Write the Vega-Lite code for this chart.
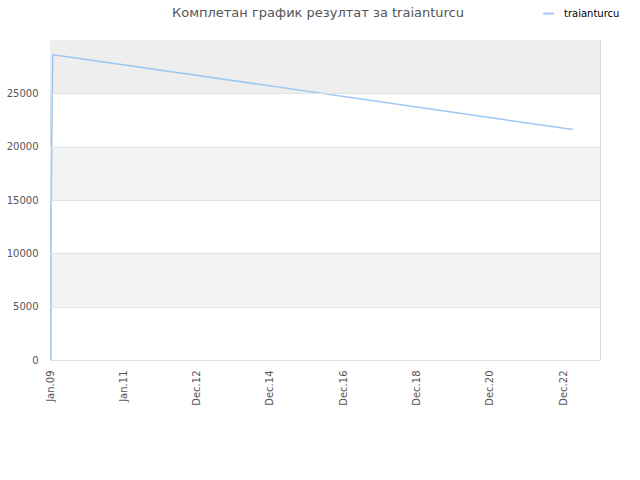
{
  "$schema": "https://vega.github.io/schema/vega-lite/v6.json",
  "width": 550,
  "height": 320,
  "autosize": "none",
  "padding": {"left": 50, "top": 40, "right": 40, "bottom": 120},
  "background": "white",
  "config": {
    "font": "DejaVu Sans",
    "view": {"stroke": "#d9d9d9", "strokeWidth": 1}
  },
  "title": {
    "text": "Комплетан график резултат за traianturcu",
    "fontSize": 13,
    "fontWeight": "normal",
    "color": "#555555",
    "anchor": "middle",
    "frame": "group",
    "dx": -7,
    "offset": -13
  },
  "datasets": {
    "bands": [
      {"lo": 5000, "hi": 10000, "band": "light"},
      {"lo": 15000, "hi": 20000, "band": "light"},
      {"lo": 25000, "hi": 30000, "band": "top"}
    ],
    "rating": [
      {"date": "2009-01-11", "value": 0, "player": "traianturcu"},
      {"date": "2009-01-12", "value": 14340, "player": "traianturcu"},
      {"date": "2009-01-28", "value": 28600, "player": "traianturcu"},
      {"date": "2009-02-05", "value": 28620, "player": "traianturcu"},
      {"date": "2023-04-06", "value": 21610, "player": "traianturcu"}
    ]
  },
  "layer": [
    {
      "data": {"name": "bands"},
      "mark": {"type": "rect"},
      "encoding": {
        "y": {"field": "lo", "type": "quantitative", "scale": {"domain": [0, 30000], "nice": false}},
        "y2": {"field": "hi"},
        "fill": {
          "field": "band",
          "type": "nominal",
          "scale": {"domain": ["light", "top"], "range": ["#f3f3f3", "#eeeeee"]},
          "legend": null
        }
      }
    },
    {
      "data": {"name": "rating"},
      "mark": {"type": "line", "strokeWidth": 1.5},
      "encoding": {
        "x": {
          "field": "date",
          "type": "temporal",
          "scale": {
            "type": "utc",
            "domain": [
              {"year": 2009, "month": 1, "date": 1, "utc": true},
              {"year": 2024, "month": 1, "date": 1, "utc": true}
            ]
          },
          "axis": {
            "title": null,
            "values": [
              {"year": 2009, "month": 1, "date": 1, "utc": true},
              {"year": 2011, "month": 1, "date": 1, "utc": true},
              {"year": 2012, "month": 12, "date": 31, "utc": true},
              {"year": 2014, "month": 12, "date": 31, "utc": true},
              {"year": 2016, "month": 12, "date": 30, "utc": true},
              {"year": 2018, "month": 12, "date": 30, "utc": true},
              {"year": 2020, "month": 12, "date": 29, "utc": true},
              {"year": 2022, "month": 12, "date": 29, "utc": true}
            ],
            "format": "%b.%y",
            "labelAngle": 270,
            "labelAlign": "right",
            "labelBaseline": "middle",
            "labelFontSize": 10,
            "labelColor": "#555555",
            "labelPadding": 10,
            "labelFlush": false,
            "labelOverlap": false,
            "ticks": false,
            "domain": false,
            "grid": false
          }
        },
        "y": {
          "field": "value",
          "type": "quantitative",
          "scale": {"domain": [0, 30000], "nice": false},
          "axis": {
            "title": null,
            "values": [0, 5000, 10000, 15000, 20000, 25000],
            "format": "d",
            "labelFontSize": 10,
            "labelColor": "#555555",
            "labelPadding": 12,
            "ticks": false,
            "domain": false,
            "grid": true,
            "gridColor": "#e2e2e2",
            "zindex": 1
          }
        },
        "color": {
          "field": "player",
          "type": "nominal",
          "scale": {"range": ["#9fc8f0"]},
          "legend": {
            "title": null,
            "orient": "none",
            "legendX": 492,
            "legendY": -33,
            "symbolType": "stroke",
            "symbolSize": 110,
            "symbolStrokeWidth": 2,
            "labelFontSize": 10,
            "labelColor": "#000000",
            "labelOffset": 9
          }
        }
      }
    }
  ]
}
